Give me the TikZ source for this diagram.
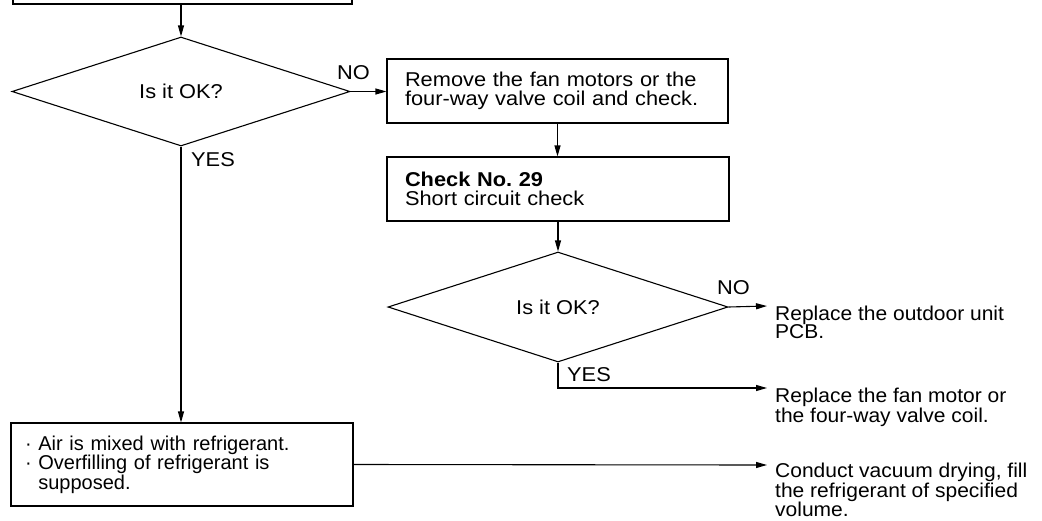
\documentclass[tikz,border=0pt]{standalone}
\usepackage{fontspec}
\setmainfont{Liberation Sans}[FakeStretch=1.09]
\newfontfamily\rfont{Liberation Sans}[FakeStretch=1.05]
\newfontfamily\bfont{Liberation Sans}[FakeStretch=1.0]
\usetikzlibrary{shapes.geometric,arrows.meta}
\begin{document}
\frenchspacing
\begin{tikzpicture}[x=1pt,y=-1pt,
  every node/.style={font=\fontsize{20}{18.5}\selectfont},
  arr/.style={line width=1.1pt,-{Triangle[length=11pt,width=6pt]}},
  box/.style={draw,line width=1.1pt,align=left,inner ysep=0pt},
  dec/.style={draw,diamond,line width=1.1pt,inner sep=0pt,aspect=3},
  lbl/.style={inner sep=0pt,anchor=north west,align=left},
  res/.style={lbl,font=\rfont\fontsize{20}{18.2}\selectfont}]
\useasboundingbox (0,0) rectangle (1042,520);
\clip (0,0) rectangle (1042,520);

\node[box, minimum width=339pt, minimum height=40pt] (top) at (182.5,-16) {};
\node[dec, minimum width=338pt, minimum height=109pt] (d1) at (181,91.5) {Is it OK?};
\node[box, text width=305pt, inner xsep=18pt, minimum height=64pt] (b2) at (557.5,91) {Remove the fan motors or the\\four-way valve coil and check.};
\node[box, text width=306pt, inner xsep=18pt, minimum height=64pt] (b3) at (558,189) {\textbf{Check No. 29}\\Short circuit check};
\node[dec, minimum width=340pt, minimum height=110pt] (d2) at (558,307) {Is it OK?};
\node[box, text width=314pt, inner xsep=14pt, minimum height=83pt, font=\bfont\fontsize{20}{18.5}\selectfont] (b4) at (182,464.5) {· Air is mixed with refrigerant.\\· Overfilling of refrigerant is\\\phantom{· }supposed.};

\node[lbl] (no1) at (337,65) {NO};
\node[lbl] (yes1) at (191,152) {YES};
\node[lbl] (no2) at (717,280) {NO};
\node[lbl] (yes2) at (567,367) {YES};
\node[res] (r1) at (775,306) {Replace the outdoor unit\\PCB.};
\node[res] (r2) at (775,388) {Replace the fan motor or\\the four-way valve coil.};
\node[res] (r3) at (775,463) {Conduct vacuum drying, fill\\the refrigerant of specified\\volume.};

\draw[arr] (d1.north |- top.south) -- (d1.north);
\draw[arr] (d1.east) -- (b2.west |- d1.east);
\draw[arr] (b2.south) -- (b2.south |- b3.north);
\draw[arr] (b3.south) -- (d2.north);
\draw[arr] (d2.east) -- ([xshift=-8pt]r1.north west);
\draw[arr] (d2.south) |- ([xshift=-8pt]r2.north west);
\draw[arr] (d1.south) -- (d1.south |- b4.north);
\draw[arr] (b4.east) -- ([xshift=-8pt,yshift=-2pt]r3.north west);
\end{tikzpicture}
\end{document}
